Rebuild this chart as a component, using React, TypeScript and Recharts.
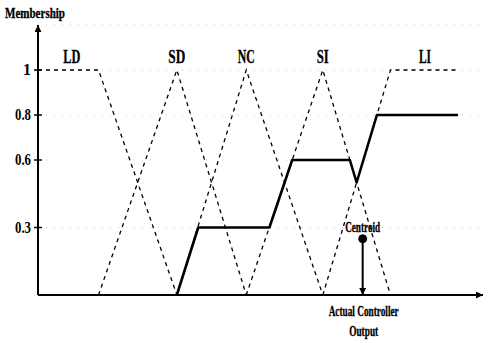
import React from "react";
import {
  ComposedChart,
  Line,
  XAxis,
  YAxis,
  CartesianGrid,
  ReferenceDot,
  ReferenceLine,
} from "recharts";

// membership functions (x = controller output, y = membership)
const ldPoints = [{ x: 0, y: 1 }, { x: 17, y: 1 }, { x: 39, y: 0 }];
const sdPoints = [{ x: 17, y: 0 }, { x: 39, y: 1 }, { x: 58.5, y: 0 }];
const ncPoints = [{ x: 39, y: 0 }, { x: 58.5, y: 1 }, { x: 80, y: 0 }];
const siPoints = [{ x: 58.5, y: 0 }, { x: 80, y: 1 }, { x: 99, y: 0 }];
const liPoints = [{ x: 80, y: 0 }, { x: 99, y: 1 }, { x: 118, y: 1 }];

// aggregated (clipped) output
const outputPoints = [
  { x: 39, y: 0 },
  { x: 45, y: 0.3 },
  { x: 65, y: 0.3 },
  { x: 71.4, y: 0.6 },
  { x: 87.6, y: 0.6 },
  { x: 89.5, y: 0.5 },
  { x: 95.2, y: 0.8 },
  { x: 118, y: 0.8 },
];

const setNames = ["LD", "SD", "NC", "SI", "LI"];
const setLabelX = [9.5, 39, 58.5, 80, 108.7];
const setLabelY = 1.06;

const centroid = { x: 91.2, y: 0.25 };

const yTicks = [0.3, 0.6, 0.8, 1];
const yTickLabels = ["0.3", "0.6", "0.8", "1"];

const FONT = "'Liberation Serif', 'Times New Roman', serif";

const Word = ({ x, y, text, size, width }: any) => (
  <text
    x={x}
    y={y}
    textAnchor="middle"
    fontFamily={FONT}
    fontWeight="bold"
    fontSize={size}
    fill="#000"
    stroke="#000"
    strokeWidth={0.3}
    textLength={width}
    lengthAdjust="spacingAndGlyphs"
  >
    {text}
  </text>
);

const YTick = ({ x, y, payload }: any) => {
  const idx = yTicks.indexOf(payload.value);
  const label = yTickLabels[idx] ?? String(payload.value);
  return (
    <g>
      <line x1={x + 3} x2={x + 11} y1={y} y2={y} stroke="#000" strokeWidth={1.5} />
      <text
        x={x}
        y={y + 5}
        textAnchor="end"
        fontFamily={FONT}
        fontWeight="bold"
        fontSize={16}
        fill="#000"
        textLength={label.length > 1 ? 16 : undefined}
        lengthAdjust="spacingAndGlyphs"
      >
        {label}
      </text>
    </g>
  );
};

const dashed = { stroke: "#000", strokeWidth: 1.3, strokeDasharray: "4 4" };

export default function App() {
  return (
    <div style={{ position: "absolute", left: 0, top: 0, background: "#fff" }}>
      <ComposedChart
        width={491}
        height={343}
        margin={{ top: 25, right: 8, bottom: 47, left: 8 }}
      >
        <defs>
          <marker
            id="arrowHead"
            viewBox="0 0 10 10"
            refX={10}
            refY={5}
            markerWidth={9}
            markerHeight={7}
            markerUnits="userSpaceOnUse"
            orient="auto-start-reverse"
          >
            <path d="M0,0 L10,5 L0,10 z" fill="#000" />
          </marker>
        </defs>
        <CartesianGrid
          vertical={false}
          stroke="#c8c8c8"
          strokeDasharray="1 7"
        />
        <XAxis
          type="number"
          dataKey="x"
          domain={[0, 125]}
          tick={false}
          tickLine={false}
          height={1}
          axisLine={{ stroke: "#000", strokeWidth: 2, markerEnd: "url(#arrowHead)" }}
        />
        <YAxis
          type="number"
          dataKey="y"
          domain={[0, 1.2]}
          ticks={yTicks}
          width={30}
          tickSize={4}
          tickMargin={3}
          tickLine={false}
          tick={<YTick />}
          axisLine={{ stroke: "#000", strokeWidth: 2, markerStart: "url(#arrowHead)" }}
        />
        <Line data={ldPoints} dataKey="y" {...dashed} dot={false} isAnimationActive={false} />
        <Line data={sdPoints} dataKey="y" {...dashed} dot={false} isAnimationActive={false} />
        <Line data={ncPoints} dataKey="y" {...dashed} dot={false} isAnimationActive={false} />
        <Line data={siPoints} dataKey="y" {...dashed} dot={false} isAnimationActive={false} />
        <Line data={liPoints} dataKey="y" {...dashed} dot={false} isAnimationActive={false} />
        <Line
          data={outputPoints}
          dataKey="y"
          stroke="#000"
          strokeWidth={2.6}
          strokeLinejoin="round"
          dot={false}
          isAnimationActive={false}
        />
        {setNames.map((name, i) => (
          <ReferenceDot
            key={name}
            x={setLabelX[i]}
            y={setLabelY}
            ifOverflow="visible"
            shape={(p: any) => (
              <Word
                x={p.cx}
                y={p.cy + 6}
                text={name}
                size={19}
                width={name === "SI" || name === "LI" ? 12 : 17}
              />
            )}
          />
        ))}
        <ReferenceDot
          x={0}
          y={1.2}
          ifOverflow="visible"
          shape={(p: any) => (
            <Word x={p.cx - 3} y={p.cy - 7} text="Membership" size={14} width={60} />
          )}
        />
        <ReferenceLine
          segment={[
            { x: centroid.x, y: centroid.y },
            { x: centroid.x, y: 0 },
          ]}
          stroke="#000"
          strokeWidth={2}
          markerEnd="url(#arrowHead)"
        />
        <ReferenceDot
          x={centroid.x}
          y={centroid.y}
          r={4}
          fill="#000"
          stroke="#000"
        />
        <ReferenceDot
          x={centroid.x}
          y={centroid.y}
          ifOverflow="visible"
          shape={(p: any) => (
            <Word x={p.cx} y={p.cy - 7} text="Centroid" size={14} width={35} />
          )}
        />
        <ReferenceDot
          x={centroid.x}
          y={0}
          ifOverflow="visible"
          shape={(p: any) => (
            <g>
              <Word x={p.cx + 1} y={p.cy + 21} text="Actual Controller" size={14} width={70} />
              <Word x={p.cx + 1} y={p.cy + 41} text="Output" size={14} width={29} />
            </g>
          )}
        />
      </ComposedChart>
    </div>
  );
}
